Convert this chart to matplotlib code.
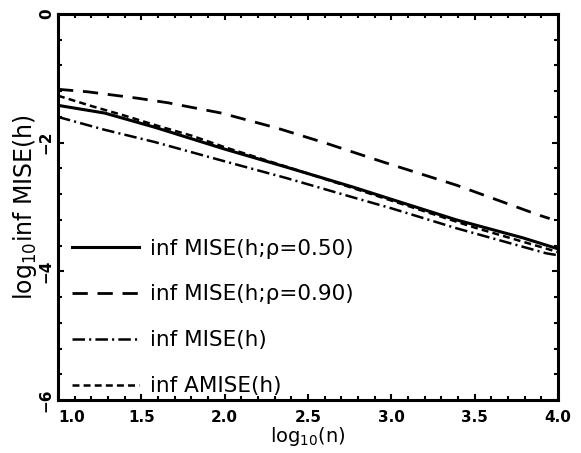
import numpy as np
import matplotlib
matplotlib.use("Agg")
import matplotlib.pyplot as plt

plt.rcParams['font.family'] = ['DejaVu Sans']
plt.rcParams['mathtext.default'] = 'regular'
plt.rcParams['lines.scale_dashes'] = False

# curvas (x = log10 n, y = log10 inf MISE)
x_rho50 = [1.0, 1.28, 1.58, 2.0, 2.37, 2.77, 3.0, 3.39, 3.79, 4.0]
y_rho50 = [-1.42, -1.54, -1.76, -2.10, -2.38, -2.69, -2.88, -3.20, -3.48, -3.65]

x_rho90 = [1.0, 1.18, 1.48, 1.66, 1.98, 2.31, 2.61, 2.95, 3.39, 3.89, 3.95]
y_rho90 = [-1.17, -1.21, -1.31, -1.38, -1.54, -1.77, -2.01, -2.30, -2.66, -3.13, -3.18]

x_mise = [1.0, 1.28, 1.58, 2.0, 2.37, 2.77, 3.0, 3.39, 3.93, 4.0]
y_mise = [-1.60, -1.80, -1.99, -2.29, -2.55, -2.85, -3.02, -3.33, -3.72, -3.75]

x_amise = [1.0, 1.2, 1.4, 1.6, 1.8, 2.0, 2.5, 3.0, 3.5, 4.0]
y_amise = [-1.27, -1.43, -1.58, -1.74, -1.89, -2.07, -2.48, -2.90, -3.32, -3.70]

rotulos = ["inf MISE(h;\u03c1=0.50)", "inf MISE(h;\u03c1=0.90)",
           "inf MISE(h)", "inf AMISE(h)"]

x_ticks = [1.0, 1.5, 2.0, 2.5, 3.0, 3.5, 4.0]
y_ticks = [0, -2, -4, -6]

fig = plt.figure(figsize=(5.81, 4.53), dpi=100)
ax = fig.add_axes([58/581, 53/453, 500/581, 386/453])

ax.plot(x_rho50, y_rho50, color='k', lw=2.2, ls='-', label=rotulos[0])
ax.plot(x_rho90, y_rho90, color='k', lw=2.0, dashes=(11, 7), label=rotulos[1])
ax.plot(x_mise, y_mise, color='k', lw=1.8, dashes=(9, 3, 1.5, 3), label=rotulos[2])
ax.plot(x_amise, y_amise, color='k', lw=1.8, dashes=(5, 3), label=rotulos[3])

ax.set_xlim(1.0, 4.0)
ax.set_ylim(-6, 0)

ax.set_xticks(x_ticks)
ax.set_xticklabels([f"{v:.1f}" for v in x_ticks], fontweight='bold', fontsize=11)
ax.set_xticks(np.arange(1.0, 4.01, 0.1), minor=True)
ax.set_yticks(y_ticks)
ax.set_yticklabels([str(v).replace('-', '\u2212') for v in y_ticks],
                   fontweight='bold', fontsize=11, rotation=90, va='center')
ax.set_yticks(np.arange(-6, 0.01, 0.4), minor=True)
ax.get_xticklabels()[0].set_ha('left')

ax.tick_params(which='both', direction='in', top=True, right=True, width=1.5)
ax.tick_params(which='major', length=4)
ax.tick_params(which='minor', length=3)
ax.tick_params(axis='x', which='major', pad=7)
ax.tick_params(axis='y', which='major', pad=3)
for s in ax.spines.values():
    s.set_linewidth(2.2)

ax.set_xlabel("log$_{10}$(n)", fontsize=14, labelpad=0)
ax.set_ylabel("log$_{10}$inf MISE(h)", fontsize=17, labelpad=0)

ax.legend(loc='lower left', bbox_to_anchor=(0.028, 0.01), frameon=False,
          fontsize=15.5, handlelength=3.1, handletextpad=0.5,
          labelspacing=1.2, borderaxespad=0.0, borderpad=0.0)

fig.savefig("out.png", dpi=100)
